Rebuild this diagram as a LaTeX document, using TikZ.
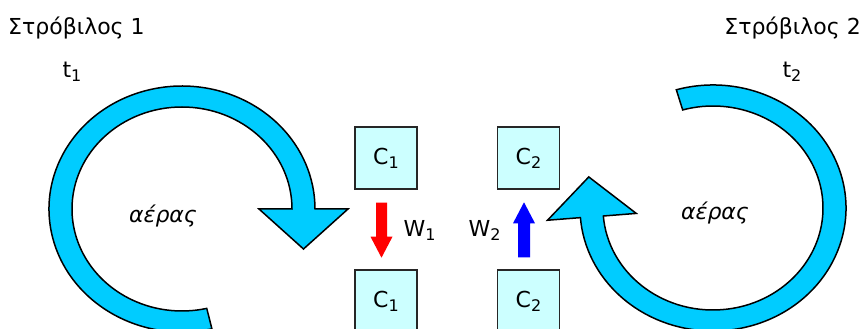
\documentclass[tikz,border=0pt]{standalone}
\usepackage{fontspec}
\setmainfont{DejaVu Sans}
\usetikzlibrary{calc}
\definecolor{vortexblue}{HTML}{00CCFF}
\definecolor{boxfill}{HTML}{CCFFFF}
\newcommand\sbs[1]{\raisebox{-4pt}{\fontsize{16}{16}\selectfont #1}}
\begin{document}
\begin{tikzpicture}[x=1pt,y=1pt,
  lbl/.style={font=\fontsize{22}{26}\selectfont, inner sep=0},
  cbox/.style={draw=black!85, line width=1.4pt, fill=boxfill, minimum width=62pt, minimum height=62pt, inner sep=0, font=\fontsize{22}{26}\selectfont},
  vortex/.style={draw=black, line width=1.5pt, fill=vortexblue, line join=miter}]
\useasboundingbox (0,0) rectangle (863,329);
\clip (0,0) rectangle (863,329);
\fill[white] (0,0) rectangle (863,329);
\coordinate (CL) at (182,120);
\coordinate (CR) at (713,121);
% left vortex
\draw[vortex] ($(CL)+(-77:133 and 123)$) arc[start angle=-77,end angle=-360,x radius=133pt,y radius=123pt]
  -- ($(CL)+(0:166 and 156)$) -- ($(CL)+(0:121.5 and 112.5)+(0,-40)$) -- ($(CL)+(0:77 and 69)$)
  -- ($(CL)+(0:110 and 102)$) arc[start angle=0,end angle=283,x radius=110pt,y radius=102pt] -- cycle;
% right vortex
\draw[vortex] ($(CR)+(106:133 and 123)$) arc[start angle=106,end angle=-175.5,x radius=133pt,y radius=123pt]
  -- ($(CR)+(-175.5:166 and 156)$) -- ($(CR)+(-175.5:121.5 and 112.5)+(-3.1,39.9)$) -- ($(CR)+(-175.5:77 and 69)$)
  -- ($(CR)+(-175.5:110 and 102)$) arc[start angle=-175.5,end angle=106,x radius=110pt,y radius=102pt] -- cycle;
% labels
\node[lbl, anchor=west] (title1) at (8,301) {Στρόβιλος 1};
\node[lbl, anchor=east] (title2) at (861,301) {Στρόβιλος 2};
\node[lbl] (t1) at (72,257) {t\sbs{1}};
\node[lbl] (t2) at (792,257) {t\sbs{2}};
\node[lbl, font=\fontsize{22}{26}\selectfont\itshape] (air1) at (163,113) {αέρας};
\node[lbl, font=\fontsize{22}{26}\selectfont\itshape] (air2) at (715,116) {αέρας};
% boxes
\node[cbox] (c1t) at (386,171) {C\sbs{1}};
\node[cbox] (c1b) at (386,28) {C\sbs{1}};
\node[cbox] (c2t) at (528.5,171) {C\sbs{2}};
\node[cbox] (c2b) at (528.5,28) {C\sbs{2}};
\node[lbl] (w1) at (419.5,99) {W\sbs{1}};
\node[lbl] (w2) at (484.5,99) {W\sbs{2}};
% flow arrows
\coordinate (r0) at ($(c1t.south)+(-4.5,-13)$);
\fill[red] (r0) ++(-5.5,0) -- ++(11,0) -- ++(0,-34) -- ++(5.5,0) -- ++(-11,-21) -- ++(-11,21) -- ++(5.5,0) -- cycle;
\coordinate (b0) at ($(c2b.north)+(-4.5,12)$);
\fill[blue] (b0) ++(-6,0) -- ++(12,0) -- ++(0,34) -- ++(5,0) -- ++(-11,21) -- ++(-11,-21) -- ++(5,0) -- cycle;
\end{tikzpicture}
\end{document}
